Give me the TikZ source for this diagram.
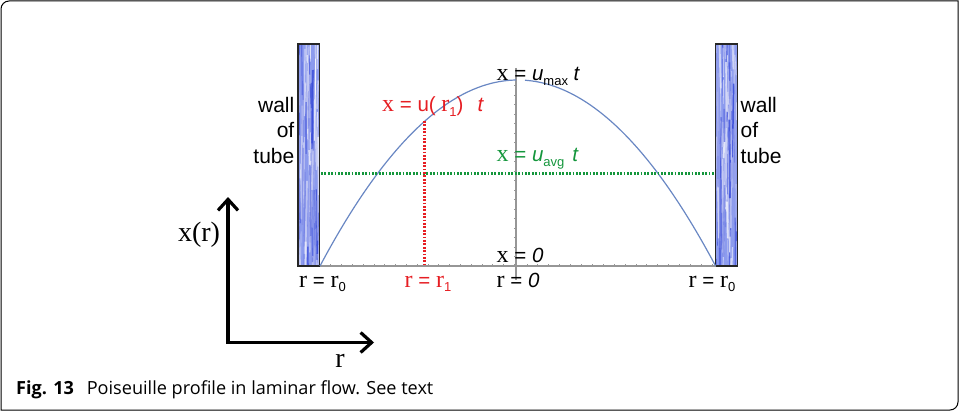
\documentclass[tikz,border=0pt]{standalone}
\usepackage{fontspec}
\setmainfont{Liberation Sans}
\newfontfamily\serf{Liberation Serif}
\newfontfamily\capfont{Open Sans}
\usetikzlibrary{arrows.meta}
\definecolor{wallblue}{RGB}{140,155,238}
\definecolor{streakblue}{RGB}{45,65,215}
\definecolor{curveblue}{RGB}{105,135,195}
\definecolor{axgray}{RGB}{150,150,150}
\definecolor{lblred}{RGB}{230,30,35}
\definecolor{lblgreen}{RGB}{20,150,60}
\newcommand\sxx{{\serf\fontsize{24}{24}\selectfont x}}
\newcommand\srr{{\serf\fontsize{24}{24}\selectfont r}}
\newcommand\sbs[1]{\raisebox{-0.45ex}{\fontsize{13}{13}\selectfont #1}}
\tikzset{
  lbl/.style={inner sep=0pt, anchor=base west, font=\fontsize{20.5}{25}\selectfont},
  walltxt/.style={inner sep=0pt, font=\fontsize{21}{25.5}\selectfont},
  plotaxis/.style={draw=axgray, line width=1.3pt},
  tick/.style={draw=axgray, line width=0.8pt},
  profile/.style={draw=curveblue, line width=1.2pt},
  reddot/.style={draw=lblred, line width=2.2pt, dash pattern=on 1.8pt off 1.6pt},
  greendot/.style={draw=lblgreen, line width=2.2pt, dash pattern=on 1.8pt off 1.6pt},
  bigaxis/.style={draw=black, line width=3.2pt, line join=miter,
     {Straight Barb[length=11pt,width=20pt]}-{Straight Barb[length=11pt,width=20pt]}},
}
\begin{document}
\begin{tikzpicture}[x=1pt,y=-1pt]
\useasboundingbox (0,0) rectangle (959,412);
% frame
\draw[line width=1pt] (1,410) -- (1,9) .. controls (1,4.6) and (4.6,1) .. (9,1) -- (958,1)
  -- (958,402) .. controls (958,406.4) and (954.4,410) .. (950,410) -- cycle;
% walls
\pgfmathsetseed{11}
\foreach \wx in {298,715.5}{
  \fill[wallblue] (\wx,44) rectangle (\wx+21.8,266);
  \begin{scope}
    \clip (\wx,44) rectangle (\wx+21.8,266);
    \foreach \i in {1,...,110}{
      \pgfmathsetmacro{\xa}{\wx+22*rnd}
      \pgfmathsetmacro{\ya}{30+230*rnd}
      \pgfmathsetmacro{\la}{15+70*rnd}
      \pgfmathsetmacro{\ca}{100*rnd}
      \pgfmathsetmacro{\wa}{0.5+1.5*rnd}
      \pgfmathsetmacro{\da}{3*rnd-1.5}
      \draw[color=streakblue!\ca!white, line width=\wa pt, opacity=0.75]
        (\xa,\ya) -- (\xa+\da,\ya+\la);
    }
  \end{scope}
  \draw[color=black!85, line width=1.2pt] (\wx,44) rectangle (\wx+21.8,266);
}
% plot axes
\coordinate (bl) at (320,266);
\coordinate (br) at (715.5,266);
\coordinate (vt) at (516,68);
\coordinate (vb) at (516,280);
\draw[plotaxis] (bl) -- (br);
\draw[plotaxis] (vt) -- (vb);
\foreach \t in {1,...,18} \draw[tick] ({320+\t*10.8},266) -- ++(0,-2.5);
\foreach \t in {1,...,18} \draw[tick] ({516+\t*10.9},266) -- ++(0,-2.5);
\foreach \t in {1,...,19} \draw[tick] (516,{266-\t*9.5}) -- ++(-2.5,0);
% profile
\draw[profile] plot[domain=320:516, samples=60] (\x,{80+186*((\x-517.8)/197.8)^2});
\draw[profile] plot[domain=525:715.6, samples=60] (\x,{80+186*((\x-517.8)/197.8)^2});
% dotted lines
\coordinate (g1) at (321,173.5);
\coordinate (g2) at (715,173.5);
\draw[greendot] (g1) -- (g2);
\coordinate (r1t) at (424.5,121);
\coordinate (r1b) at (424.5,265);
\draw[reddot] (r1t) -- (r1b);
% labels
\node[lbl] (umax) at (496.5,81) {\sxx{} = \textit{u}\sbs{max} \textit{t}};
\node[lbl, text=lblred] (ur1) at (382,111.5) {\sxx{} = u( \srr\sbs{1})\hspace{14pt}\textit{t}};
\node[lbl, text=lblgreen] (uavg) at (496.5,161.5) {\sxx{} = \textit{u}\sbs{avg}\hspace{8pt}\textit{t}};
\node[lbl] (x0) at (496.5,262) {\sxx{} = \textit{0}};
\node[lbl] (rr0l) at (299,287) {\srr{} = \srr\sbs{0}};
\node[lbl, text=lblred] (rr1) at (404.5,287) {\srr{} = \srr\sbs{1}};
\node[lbl] (rzero) at (496.5,287) {\srr{} = \textit{0}};
\node[lbl] (rr0r) at (688.5,287) {\srr{} = \srr\sbs{0}};
\node[walltxt, anchor=north east, align=right] (wl) at (294.5,97) {wall\\of\\tube};
\node[walltxt, anchor=north west, align=left] (wr) at (740.5,97) {wall\\of\\tube};
% big axes
\coordinate (O) at (228,342.5);
\coordinate (ytip) at (228,197);
\coordinate (xtip) at (374,342.5);
\draw[bigaxis] (ytip) -- (O) -- (xtip);
\node[inner sep=0pt, font=\serf\fontsize{28}{28}\selectfont] (xr) at (199,234.5) {x(r)};
\node[inner sep=0pt, font=\serf\fontsize{28}{28}\selectfont, anchor=base] (rlab) at (340,367) {r};
% caption
\node[inner sep=0pt, anchor=base west, font=\capfont\fontsize{18.1}{20}\selectfont] (cap) at (16,394.5)
  {\textbf{Fig. 13}\hspace{0.45em} Poiseuille profile in laminar flow. See text};
\end{tikzpicture}
\end{document}
